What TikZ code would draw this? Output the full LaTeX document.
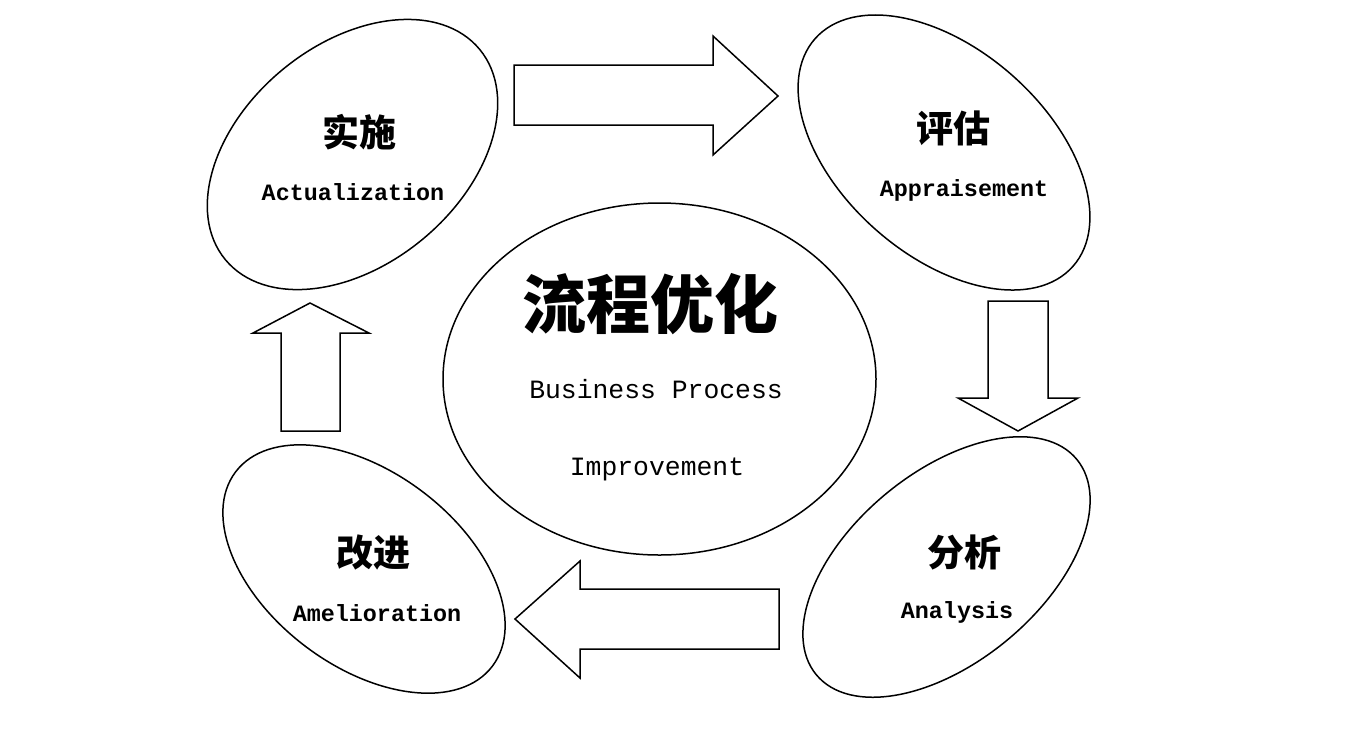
\documentclass[tikz,border=0pt]{standalone}
\usepackage{fontspec}
\newfontfamily\cjk{Noto Sans CJK SC}
\newfontfamily\lmono{Liberation Mono}
\usetikzlibrary{shapes.geometric}

\begin{document}
\begin{tikzpicture}[x=0.5pt,y=-0.5pt,
  stage/.style={ellipse,draw,line width=0.75pt,inner sep=0pt,outer sep=0pt},
  cnlabel/.style={font=\cjk\bfseries\fontsize{18.5}{20}\selectfont},
  enlabel/.style={font=\lmono\bfseries\fontsize{11.7}{13}\selectfont},
  bigcn/.style={font=\cjk\bfseries\fontsize{32}{34}\selectfont},
  bigen/.style={font=\lmono\fontsize{13.2}{15}\selectfont},
  blockarrow/.style={draw,line width=0.75pt,line join=miter}]
\useasboundingbox (0,0) rectangle (1348,746);
% stages
\node[stage,minimum width=165pt,minimum height=110pt,rotate=39.6] (act) at (352.5,154.5) {};
\node[stage,minimum width=172pt,minimum height=103pt,rotate=-41.4] (app) at (944,152.5) {};
\node[stage,minimum width=169pt,minimum height=95pt,rotate=39.6] (ana) at (946.5,567) {};
\node[stage,minimum width=161pt,minimum height=97pt,rotate=-37.1] (ame) at (364,569) {};
\node[stage,minimum width=216.5pt,minimum height=176pt] (bpi) at (659.5,379) {};
% labels
\node[cnlabel] (actcn) at (359,132) {实施};
\node[enlabel] (acten) at (353,192) {Actualization};
\node[cnlabel] (appcn) at (953,128) {评估};
\node[enlabel] (appen) at (964,190) {Appraisement};
\node[cnlabel] (anacn) at (964,552) {分析};
\node[enlabel] (anaen) at (957,612) {Analysis};
\node[cnlabel] (amecn) at (373,552) {改进};
\node[enlabel] (ameen) at (377,613) {Amelioration};
\node[bigcn] (bpicn) at (650,304) {流程优化};
\node[bigen] (bpien1) at (656,389) {Business Process};
\node[bigen] (bpien2) at (657,469) {Improvement};
% arrows
\draw[blockarrow] (514,65) -- (713,65) -- (713,36) -- (778,96) -- (713,155) -- (713,125) -- (514,125) -- cycle;
\draw[blockarrow] (988,301) -- (1048,301) -- (1048,398) -- (1078,398) -- (1018,431) -- (958,398) -- (988,398) -- cycle;
\draw[blockarrow] (779,589) -- (580,589) -- (580,561) -- (515,619) -- (580,678) -- (580,649) -- (779,649) -- cycle;
\draw[blockarrow] (281,431) -- (281,333) -- (253,333) -- (310,303) -- (369,333) -- (340,333) -- (340,431) -- cycle;
\end{tikzpicture}
\end{document}
